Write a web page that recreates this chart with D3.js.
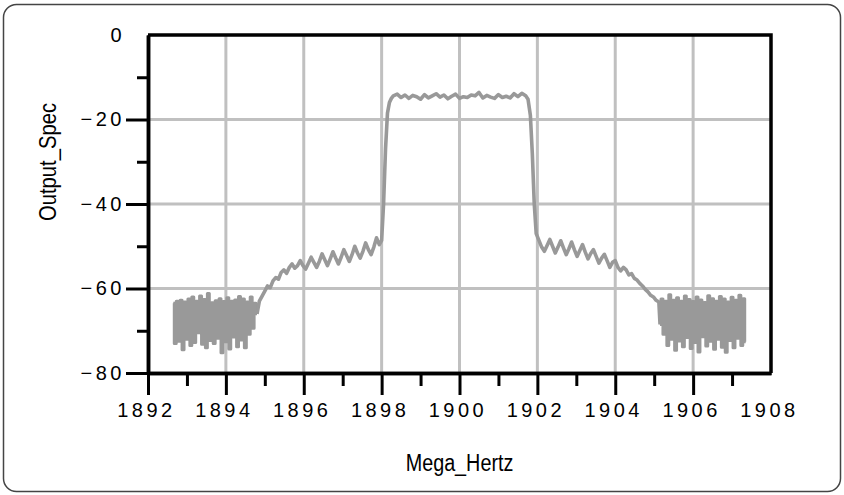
<!DOCTYPE html>
<html>
<head>
<meta charset="utf-8">
<script src="https://cdn.jsdelivr.net/npm/d3@7"></script>
<style>
  body { margin: 0; background: #fff; }
  svg { display: block; }
</style>
</head>
<body>
<div id="chart"></div>
<script>
// spectrum samples, [MHz, dB]
const leftNoise = [
  [1892.65, -63.5], [1892.70, -73.0], [1892.75, -63.0], [1892.80, -72.5], [1892.85, -62.8],
  [1892.90, -74.5], [1892.95, -63.2], [1893.00, -72.0], [1893.05, -62.5], [1893.10, -73.5],
  [1893.15, -62.0], [1893.20, -72.8], [1893.25, -63.0], [1893.30, -70.5], [1893.35, -61.8],
  [1893.40, -73.2], [1893.45, -62.6], [1893.50, -74.0], [1893.55, -61.2], [1893.60, -72.3],
  [1893.65, -63.4], [1893.70, -73.0], [1893.75, -62.9], [1893.80, -71.8], [1893.85, -62.4],
  [1893.90, -75.2], [1893.95, -63.1], [1894.00, -72.6], [1894.05, -62.2], [1894.10, -74.3],
  [1894.15, -63.0], [1894.20, -71.5], [1894.25, -62.7], [1894.30, -73.8], [1894.35, -61.9],
  [1894.40, -72.2], [1894.45, -62.5], [1894.50, -74.0], [1894.55, -63.2], [1894.60, -70.8],
  [1894.65, -62.0], [1894.70, -69.4], [1894.75, -63.5], [1894.80, -66.0]
];
const leftShoulder = [
  [1894.86, -63.0], [1894.93, -61.8], [1895.00, -60.6], [1895.07, -59.4], [1895.14, -59.8],
  [1895.21, -58.2], [1895.28, -57.4], [1895.35, -57.8], [1895.42, -56.2], [1895.49, -55.6],
  [1895.56, -56.4], [1895.63, -55.0], [1895.70, -54.2], [1895.77, -55.2], [1895.84, -54.6],
  [1895.91, -53.4], [1895.98, -54.6], [1896.05, -55.4], [1896.12, -54.0], [1896.19, -52.6],
  [1896.26, -53.8], [1896.33, -55.0], [1896.40, -53.6], [1896.47, -51.8], [1896.54, -53.2],
  [1896.61, -54.6], [1896.68, -53.0], [1896.75, -51.3], [1896.82, -52.8], [1896.89, -54.2],
  [1896.96, -52.6], [1897.03, -50.8], [1897.10, -52.2], [1897.17, -53.6], [1897.24, -52.0],
  [1897.31, -50.0], [1897.38, -51.6], [1897.45, -52.8], [1897.52, -51.2], [1897.59, -49.2],
  [1897.66, -50.8], [1897.73, -52.0], [1897.80, -50.2], [1897.87, -48.0], [1897.94, -49.6],
  [1898.00, -48.6]
];
const passband = [
  [1898.05, -40.0], [1898.10, -27.0], [1898.15, -18.5], [1898.20, -16.0], [1898.25, -15.0],
  [1898.30, -14.4], [1898.40, -14.0], [1898.50, -14.8], [1898.60, -14.2], [1898.70, -15.0],
  [1898.80, -14.3], [1898.90, -14.6], [1899.00, -15.2], [1899.10, -14.1], [1899.20, -14.9],
  [1899.30, -14.4], [1899.40, -13.9], [1899.50, -14.7], [1899.60, -14.2], [1899.70, -15.1],
  [1899.80, -14.5], [1899.90, -14.0], [1900.00, -15.0], [1900.10, -14.6], [1900.20, -14.8],
  [1900.30, -14.2], [1900.40, -14.4], [1900.50, -13.6], [1900.60, -14.9], [1900.70, -14.3],
  [1900.80, -14.7], [1900.90, -15.0], [1901.00, -14.1], [1901.10, -14.8], [1901.20, -14.5],
  [1901.30, -14.9], [1901.40, -13.9], [1901.50, -14.6], [1901.60, -13.8], [1901.70, -14.4],
  [1901.76, -15.2], [1901.82, -19.0], [1901.87, -28.0], [1901.92, -40.0], [1901.97, -47.0]
];
const rightShoulder = [
  [1902.04, -48.6], [1902.11, -50.2], [1902.18, -51.2], [1902.25, -49.8], [1902.32, -48.4],
  [1902.39, -50.0], [1902.46, -51.6], [1902.53, -50.2], [1902.60, -48.7], [1902.67, -50.4],
  [1902.74, -52.0], [1902.81, -50.6], [1902.88, -49.0], [1902.95, -50.8], [1903.02, -52.4],
  [1903.09, -51.0], [1903.16, -49.6], [1903.23, -51.4], [1903.30, -53.0], [1903.37, -51.7],
  [1903.44, -50.8], [1903.51, -52.4], [1903.58, -54.0], [1903.65, -52.8], [1903.72, -51.9],
  [1903.79, -53.4], [1903.86, -55.0], [1903.93, -53.8], [1904.00, -53.4], [1904.07, -55.0],
  [1904.14, -55.8], [1904.21, -55.0], [1904.28, -55.6], [1904.35, -56.8], [1904.42, -56.5],
  [1904.49, -57.6], [1904.56, -58.0], [1904.63, -58.8], [1904.70, -59.4], [1904.77, -60.2],
  [1904.84, -60.8], [1904.91, -61.6], [1904.98, -62.0], [1905.05, -62.8], [1905.12, -63.2]
];
const rightNoise = [
  [1905.15, -68.5], [1905.20, -62.5], [1905.25, -70.8], [1905.30, -63.0], [1905.35, -73.5],
  [1905.40, -61.5], [1905.45, -72.0], [1905.50, -62.8], [1905.55, -74.6], [1905.60, -62.2],
  [1905.65, -72.4], [1905.70, -63.0], [1905.75, -73.8], [1905.80, -61.8], [1905.85, -71.6],
  [1905.90, -62.6], [1905.95, -74.2], [1906.00, -63.1], [1906.05, -72.8], [1906.10, -62.0],
  [1906.15, -75.0], [1906.20, -62.7], [1906.25, -71.4], [1906.30, -63.3], [1906.35, -73.6],
  [1906.40, -61.7], [1906.45, -72.5], [1906.50, -62.4], [1906.55, -74.4], [1906.60, -63.0],
  [1906.65, -72.0], [1906.70, -61.9], [1906.75, -73.9], [1906.80, -62.5], [1906.85, -75.1],
  [1906.90, -63.2], [1906.95, -72.3], [1907.00, -62.1], [1907.05, -74.0], [1907.10, -62.8],
  [1907.15, -71.8], [1907.20, -61.6], [1907.25, -73.5], [1907.30, -62.4], [1907.35, -72.6]
];

const xMajor = [1892, 1894, 1896, 1898, 1900, 1902, 1904, 1906, 1908];
const xMinor = [1893, 1895, 1897, 1899, 1901, 1903, 1905, 1907];
const yMajor = [0, -20, -40, -60, -80];
const yMinor = [-10, -30, -50, -70];

const width = 844, height = 495;
const margin = {left: 148, top: 35, right: 73, bottom: 122};
const plotW = width - margin.left - margin.right;
const plotH = height - margin.top - margin.bottom;

const svg = d3.select("#chart").append("svg")
    .attr("width", width)
    .attr("height", height);

// rounded outer border
svg.append("rect")
    .attr("x", 3.5).attr("y", 4.5)
    .attr("width", width - 7).attr("height", height - 8)
    .attr("rx", 13)
    .attr("fill", "none")
    .attr("stroke", "#444")
    .attr("stroke-width", 1.5);

const g = svg.append("g")
    .attr("transform", `translate(${margin.left},${margin.top})`);

let x = d3.scaleLinear().domain([1892, 1908]).range([0, plotW]);
let y = d3.scaleLinear().domain([-80, 0]).range([plotH, 0]);

// grid
g.append("g").selectAll("line")
    .data(xMajor.slice(1, -1)).enter().append("line")
    .attr("x1", d => x(d)).attr("x2", d => x(d))
    .attr("y1", 0).attr("y2", plotH)
    .attr("stroke", "#c0c0c0").attr("stroke-width", 3);
g.append("g").selectAll("line")
    .data(yMajor.slice(1, -1)).enter().append("line")
    .attr("x1", 0).attr("x2", plotW)
    .attr("y1", d => y(d)).attr("y2", d => y(d))
    .attr("stroke", "#c0c0c0").attr("stroke-width", 3);

// spectrum trace: noise floor drawn as steps (solid block like the analyzer),
// the rest as a plain line
const stepLine = d3.line().curve(d3.curveStep).x(d => x(d[0])).y(d => y(d[1]));
const plainLine = d3.line().x(d => x(d[0])).y(d => y(d[1]));
const middle = [leftNoise[leftNoise.length - 1]]
    .concat(leftShoulder, passband, rightShoulder, [rightNoise[0]]);

const traces = [
    {pts: leftNoise, gen: stepLine, w: 3},
    {pts: middle, gen: plainLine, w: 3.6},
    {pts: rightNoise, gen: stepLine, w: 3}
];
g.append("g").selectAll("path")
    .data(traces).enter().append("path")
    .attr("d", d => d.gen(d.pts))
    .attr("fill", "none")
    .attr("stroke", "#999")
    .attr("stroke-width", d => d.w)
    .attr("stroke-linejoin", "round");

// frame: top and right
g.append("path")
    .attr("d", `M0,0H${plotW}V${plotH}`)
    .attr("fill", "none")
    .attr("stroke", "#000")
    .attr("stroke-width", 3.5);

const tickFont = g => g.selectAll("text")
    .attr("fill", "#000")
    .style("font-family", "'Liberation Sans', Arial, sans-serif")
    .style("font-size", "20px")
    .style("letter-spacing", "3.5px");

// x axis, major then minor ticks
let xAxis = g.append("g")
    .attr("transform", `translate(0,${plotH})`)
    .call(d3.axisBottom(x).tickValues(xMajor).tickSize(22).tickPadding(8)
        .tickFormat(d3.format("d")).tickSizeOuter(0))
    .call(tickFont);
xAxis.selectAll("text").attr("dx", -2);
xAxis.selectAll(".tick").filter(d => d === 1908).select("line").remove();
g.append("g")
    .attr("transform", `translate(0,${plotH})`)
    .call(d3.axisBottom(x).tickValues(xMinor).tickSize(13).tickFormat("").tickSizeOuter(0));

// y axis
let yAxis = g.append("g")
    .call(d3.axisLeft(y).tickValues(yMajor).tickSize(22).tickPadding(1).tickSizeOuter(0))
    .call(tickFont);
yAxis.selectAll(".tick").filter(d => d === 0).select("line").remove();
g.append("g")
    .call(d3.axisLeft(y).tickValues(yMinor).tickSize(11).tickFormat("").tickSizeOuter(0));

g.selectAll(".domain").attr("stroke", "#000").attr("stroke-width", 3.5);
g.selectAll(".tick line").attr("stroke", "#000").attr("stroke-width", 3);

// axis titles, squeezed to look like the condensed face of the original
svg.append("text")
    .attr("transform", `translate(${margin.left + plotW / 2},471) scale(0.86,1)`)
    .attr("text-anchor", "middle")
    .style("font-family", "'Liberation Sans', sans-serif")
    .style("font-size", "23px")
    .text("Mega_Hertz");

svg.append("text")
    .attr("transform", "translate(56,162) rotate(-90) scale(0.88,1)")
    .attr("text-anchor", "middle")
    .style("font-family", "'Liberation Sans', sans-serif")
    .style("font-size", "23px")
    .text("Output_Spec");
</script>
</body>
</html>
